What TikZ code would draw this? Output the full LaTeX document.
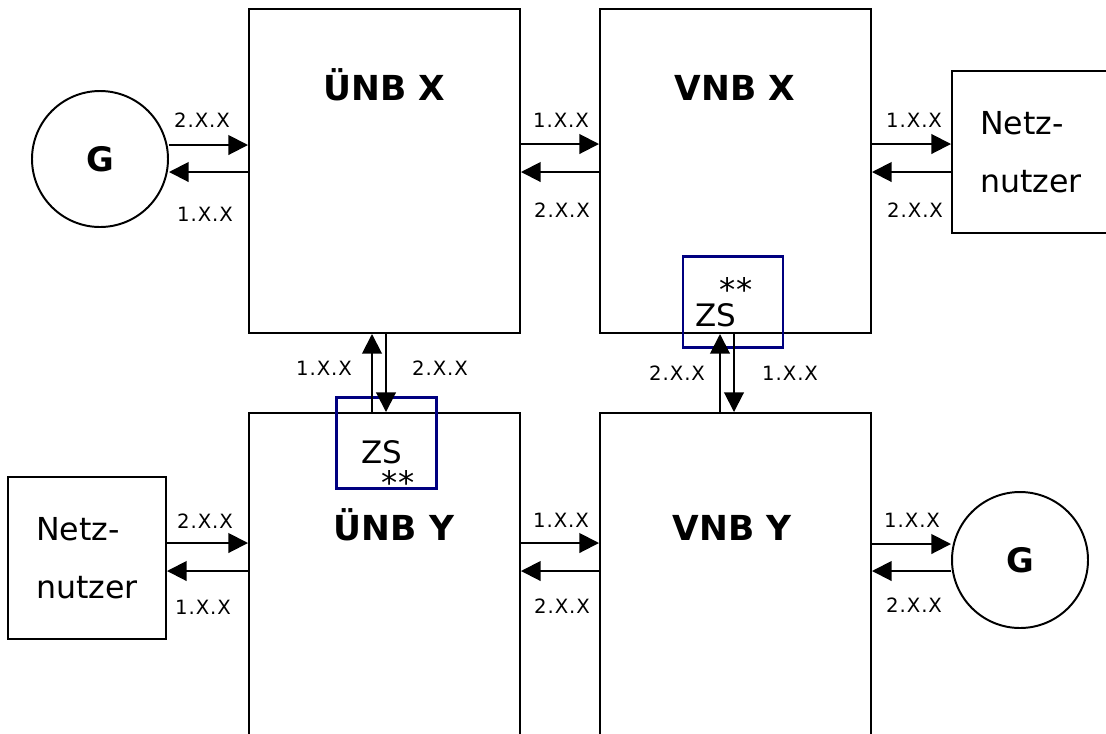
\documentclass[tikz,border=0pt]{standalone}
\usepackage{fontspec}
\setmainfont{DejaVu Sans}
\newfontfamily\spacedfont[LetterSpace=5]{DejaVu Sans}
\usetikzlibrary{arrows.meta,positioning,calc}
\definecolor{zsNavy}{HTML}{000080}

\begin{document}
\begin{tikzpicture}[x=0.025cm,y=-0.025cm,line width=1.4pt,
    netbox/.style={draw,minimum width=271*0.025cm,minimum height=324*0.025cm},
    userbox/.style={draw,minimum width=158*0.025cm,minimum height=162*0.025cm,align=left,
      font=\fontsize{22.5}{41}\selectfont},
    gen/.style={draw,circle,minimum size=136*0.025cm,inner sep=0pt,
      font=\fontsize{24}{28}\selectfont\bfseries},
    zsbox/.style={draw=zsNavy,line width=1.9pt,minimum width=100*0.025cm,minimum height=91*0.025cm},
    titel/.style={anchor=base,font=\fontsize{24.5}{28}\selectfont\bfseries},
    zstext/.style={anchor=base,inner sep=0pt,font=\fontsize{22}{26}\selectfont},
    stars/.style={anchor=base,inner sep=0pt,font=\fontsize{23}{26}\selectfont},
    lbl/.style={font=\spacedfont\fontsize{14}{16}\selectfont},
    pfeil/.style={-{Triangle[length=14pt,width=14pt]}}]
  \clip (0,0) rectangle (1106,733);

  % network operators
  \node[netbox] (unbx) at (384.5,171) {};
  \node[netbox] (vnbx) at (735.5,171) {};
  \node[netbox] (unby) at (384.5,575) {};
  \node[netbox] (vnby) at (735.5,575) {};
  \node[titel] (tunbx) at (384,100) {ÜNB X};
  \node[titel] (tvnbx) at (735,100) {VNB X};
  \node[titel] (tunby) at (394,540) {ÜNB Y};
  \node[titel] (tvnby) at (732,540) {VNB Y};

  % generators and grid users
  \node[gen] (gx) at (100,159) {G};
  \node[gen] (gy) at (1020,560) {G};
  \node[userbox] (nnx) at (1031,152) {Netz-\\nutzer};
  \node[userbox] (nny) at (87,558) {Netz-\\nutzer};

  % ZS boxes
  \node[zsbox] (zsx) at (733,302) {};
  \node[zsbox] (zsy) at (386.5,443) {};
  \node[zstext] (zsxt) at (716,326) {ZS};
  \node[stars] (zsxs) at (736,301) {**};
  \node[zstext] (zsyt) at (382,463) {ZS};
  \node[stars] (zsys) at (398,494) {**};

  % horizontal exchanges, top row
  \draw[pfeil] (gx.east |- 0,145) -- (unbx.west |- 0,145);
  \draw[pfeil] (unbx.west |- 0,172) -- (gx.east |- 0,172);
  \draw[pfeil] (unbx.east |- 0,144) -- (vnbx.west |- 0,144);
  \draw[pfeil] (vnbx.west |- 0,172) -- (unbx.east |- 0,172);
  \draw[pfeil] (vnbx.east |- 0,144) -- (nnx.west |- 0,144);
  \draw[pfeil] (nnx.west |- 0,172) -- (vnbx.east |- 0,172);

  % horizontal exchanges, bottom row
  \draw[pfeil] (nny.east |- 0,543) -- (unby.west |- 0,543);
  \draw[pfeil] (unby.west |- 0,571) -- (nny.east |- 0,571);
  \draw[pfeil] (unby.east |- 0,543) -- (vnby.west |- 0,543);
  \draw[pfeil] (vnby.west |- 0,571) -- (unby.east |- 0,571);
  \draw[pfeil] (vnby.east |- 0,544) -- (gy.west |- 0,544);
  \draw[pfeil] (gy.west |- 0,571) -- (vnby.east |- 0,571);

  % vertical exchanges
  \draw[pfeil] (unby.north -| 372,0) -- (unbx.south -| 372,0);
  \draw[pfeil] (unbx.south -| 386,0) -- (unby.north -| 386,0);
  \draw[pfeil] (vnby.north -| 720,0) -- (vnbx.south -| 720,0);
  \draw[pfeil] (vnbx.south -| 734,0) -- (vnby.north -| 734,0);

  % labels
  \node[lbl] (l1) at (202,120) {2.X.X};
  \node[lbl] (l2) at (205,214) {1.X.X};
  \node[lbl] (l3) at (561,120) {1.X.X};
  \node[lbl] (l4) at (562,210) {2.X.X};
  \node[lbl] (l5) at (914,120) {1.X.X};
  \node[lbl] (l6) at (915,210) {2.X.X};
  \node[lbl] (l7) at (324,368) {1.X.X};
  \node[lbl] (l8) at (440,368) {2.X.X};
  \node[lbl] (l9) at (677,373) {2.X.X};
  \node[lbl] (l10) at (790,373) {1.X.X};
  \node[lbl] (l11) at (205,521) {2.X.X};
  \node[lbl] (l12) at (203,607) {1.X.X};
  \node[lbl] (l13) at (561,520) {1.X.X};
  \node[lbl] (l14) at (562,606) {2.X.X};
  \node[lbl] (l15) at (912,520) {1.X.X};
  \node[lbl] (l16) at (914,605) {2.X.X};
\end{tikzpicture}
\end{document}
